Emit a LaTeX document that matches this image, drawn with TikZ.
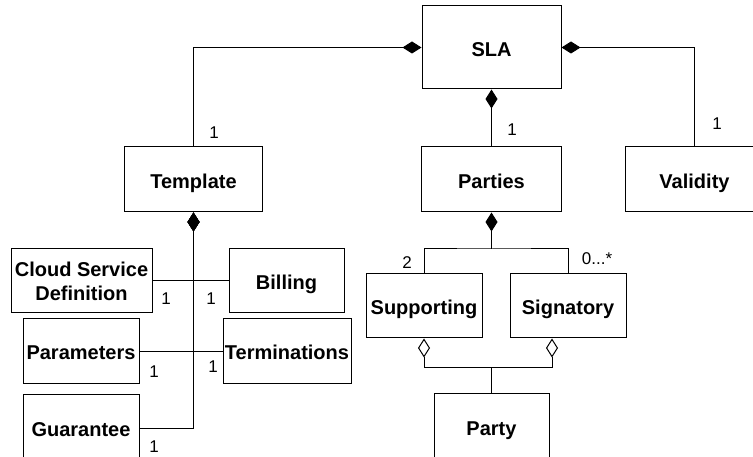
\documentclass[tikz,border=0pt]{standalone}
\usepackage{fontspec}
\setmainfont{Liberation Sans}
\usetikzlibrary{positioning,arrows.meta}

\tikzset{
  box/.style={draw, line width=1pt, minimum width=116pt, minimum height=64pt,
    inner sep=0pt, align=center, font=\fontsize{20}{24}\selectfont\bfseries},
  cls/.style={box, execute at begin node=\rule[-4.5pt]{0pt}{26.4pt}},
  link/.style={line width=1pt},
  comp/.style={link, -{Diamond[length=19pt,width=12pt]}},
  aggr/.style={link, -{Diamond[open,length=19pt,width=12pt]}},
  mult/.style={inner sep=0pt, font=\fontsize{17}{20}\selectfont},
}

\begin{document}
\begin{tikzpicture}[x=1pt, y=-1pt]
  \useasboundingbox (0,0) rectangle (753,457);
  \clip (0,0) rectangle (753,457);

  % Define nodes
  \node[cls, minimum width=139pt, minimum height=83pt] (sla) at (491.5,47.5) {SLA};
  \node[cls, minimum width=140pt, minimum height=65pt, below=57pt of sla] (parties) {Parties};
  \node[cls, minimum width=138pt, minimum height=65pt, left=158pt of parties] (template) {Template};
  \node[cls, minimum width=138pt, minimum height=65pt, right=63pt of parties] (validity) {Validity};

  \node[box, minimum width=141pt] (csd) at (81.5,281) {Cloud Service\\Definition};
  \node[cls, minimum width=115pt, right=76pt of csd] (billing) {Billing};
  \node[cls] (parameters) at (81,351) {Parameters};
  \node[cls, minimum width=128pt, right=83pt of parameters] (terminations) {Terminations};
  \node[cls, minimum height=68pt, below=10pt of parameters] (guarantee) {Guarantee};

  \node[cls] (supporting) at (424,306) {Supporting};
  \node[cls, right=27pt of supporting] (signatory) {Signatory};
  \node[cls, minimum width=115pt, minimum height=68pt] (party) at (491.5,427) {Party};

  \coordinate (pj) at (491.5,249);
  \coordinate (pk) at (491.5,367);

  % Multiplicities
  \node[mult] (mtemplate) at (214,133) {1};
  \node[mult] (mparties) at (512,130) {1};
  \node[mult] (mvalidity) at (717,124) {1};
  \node[mult] (mcsd) at (166,299) {1};
  \node[mult] (mbilling) at (211,299) {1};
  \node[mult] (mparameters) at (154,372) {1};
  \node[mult] (mterminations) at (213,367) {1};
  \node[mult] (mguarantee) at (154,447) {1};
  \node[mult] (msupporting) at (407,263) {2};
  \node[mult] (msignatory) at (597,259) {0...*};

  % Connect the nodes
  \draw[comp] (template) |- (sla);
  \draw[comp] (validity) |- (sla);
  \draw[comp] (parties) -- (sla);
  \foreach \n in {csd,billing,parameters,terminations,guarantee}
    \draw[comp] (\n) -| (template);
  \draw[link] (supporting) |- (pj) -| (signatory);
  \draw[comp] (pj) -- (parties);
  \draw[aggr] (pk) -| (supporting);
  \draw[aggr] (pk) -| ([xshift=-16pt]signatory.south);
  \draw[link] (party) -- (pk);

\end{tikzpicture}
\end{document}
